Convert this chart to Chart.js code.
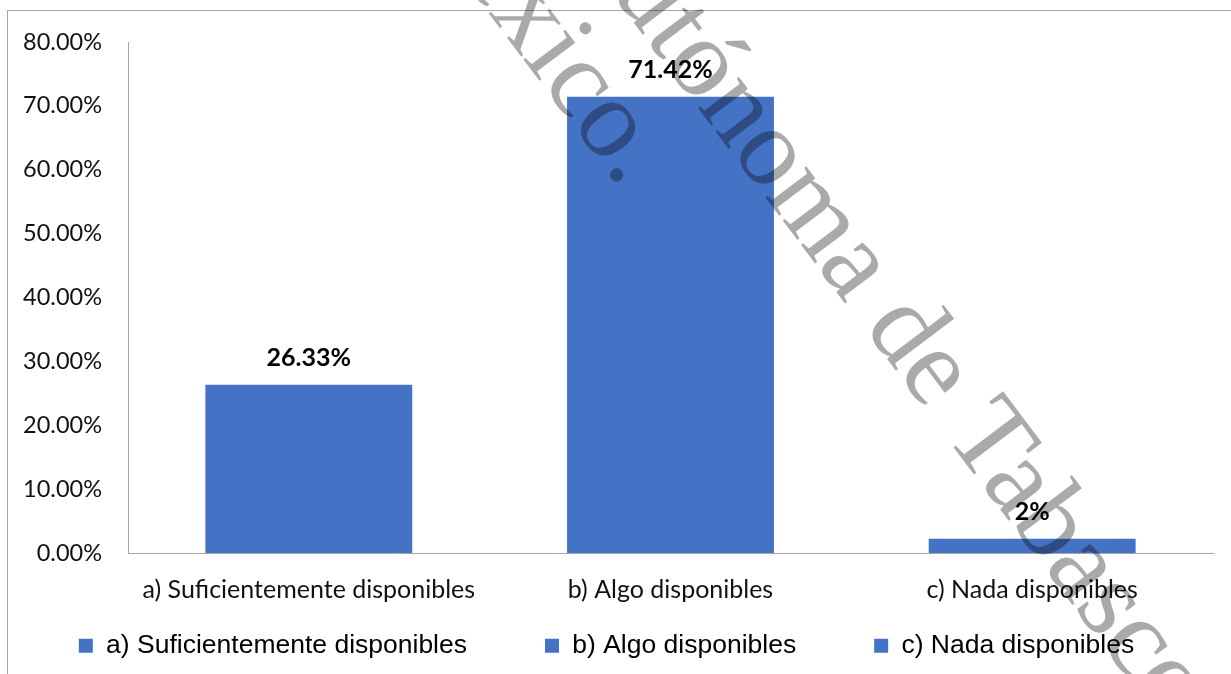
<!DOCTYPE html>
<html>
<head>
<meta charset="utf-8">
<script src="https://cdn.jsdelivr.net/npm/chart.js@4/dist/chart.umd.min.js"></script>
<style>
  html, body { margin: 0; padding: 0; background: #fff; overflow: hidden; }
  #chart { position: absolute; left: 0; top: 0; }
</style>
</head>
<body>
<canvas id="chart" width="1231" height="674"></canvas>
<script>
// data
const categories = ["a) Suficientemente disponibles", "b) Algo disponibles", "c) Nada disponibles"];
const values = [26.33, 71.42, 2.25];
const valueLabels = ["26.33%", "71.42%", "2%"];
const yTicks = [0, 10, 20, 30, 40, 50, 60, 70, 80];

const barColor = "#4472C4";
const axisColor = "#a6a6a6";

// outer frame of the chart object (right and bottom run off the page)
const framePlugin = {
  id: "frame",
  beforeDraw(chart) {
    const ctx = chart.ctx;
    ctx.save();
    ctx.strokeStyle = axisColor;
    ctx.lineWidth = 1;
    ctx.strokeRect(7.5, 10.5, 1400, 900);
    ctx.restore();
  },
};

// value labels above the bars
const barLabels = {
  id: "barLabels",
  afterDatasetsDraw(chart) {
    const ctx = chart.ctx;
    const meta = chart.getDatasetMeta(0);
    ctx.save();
    ctx.font = "bold 25px Lato";
    ctx.fillStyle = "#000";
    ctx.textAlign = "center";
    ctx.textBaseline = "alphabetic";
    meta.data.forEach((bar, i) => {
      ctx.fillText(valueLabels[i], bar.x, bar.y - 19);
    });
    ctx.restore();
  },
};

// gray document watermark drawn over everything
const watermark = {
  id: "watermark",
  afterDraw(chart) {
    const ctx = chart.ctx;
    const size = 112;
    ctx.save();
    ctx.globalCompositeOperation = "multiply";
    ctx.fillStyle = "#aaaaaa";
    ctx.font = size + "px 'Liberation Serif'";
    ctx.textAlign = "left";
    ctx.textBaseline = "alphabetic";
    const angle = 53 * Math.PI / 180;

    ctx.save();
    ctx.translate(700, 68);
    ctx.rotate(angle);
    let off = ctx.measureText("Aut").width + ctx.measureText("ó").width / 2;
    ctx.fillText("Autónoma de Tabasco", -off, 0.23 * size);
    ctx.restore();

    ctx.save();
    ctx.translate(608, 129);
    ctx.rotate(angle);
    off = ctx.measureText("Méxic").width + ctx.measureText("o").width / 2;
    ctx.fillText("México.", -off, 0.23 * size);
    ctx.restore();

    ctx.restore();
  },
};

new Chart(document.getElementById("chart"), {
  type: "bar",
  data: {
    labels: categories,
    datasets: [
      {
        label: "Porcentaje",
        data: values,
        backgroundColor: barColor,
        borderWidth: 0,
        barPercentage: 0.572,
        categoryPercentage: 1,
      },
    ],
  },
  options: {
    responsive: false,
    animation: false,
    layout: {
      padding: { left: 0, top: 42, right: 18, bottom: 5 },
    },
    scales: {
      x: {
        grid: { display: false, drawTicks: false },
        border: { display: true, color: axisColor, width: 1 },
        ticks: {
          color: "#111",
          font: { family: "Lato", size: 25 },
          padding: 22,
          maxRotation: 0,
          autoSkip: false,
        },
        afterFit(scale) {
          scale.height = 50;
        },
      },
      y: {
        min: 0,
        max: 80,
        afterBuildTicks(scale) {
          scale.ticks = yTicks.map((v) => ({ value: v }));
        },
        grid: { display: false, drawTicks: false },
        border: { display: true, color: axisColor, width: 1 },
        ticks: {
          color: "#111",
          font: { family: "Lato", size: 23.5 },
          padding: 26,
          callback: (v) => v.toFixed(2) + "%",
        },
        afterFit(scale) {
          scale.width = 128;
        },
      },
    },
    plugins: {
      tooltip: { enabled: false },
      legend: {
        display: true,
        position: "bottom",
        // empty title with negative padding pulls the single legend row up,
        // so the wide item spacing does not push it off the page
        title: {
          display: true,
          text: "",
          font: { size: 10 },
          padding: { top: -60.5, bottom: 0 },
        },
        labels: {
          color: "#000",
          font: { family: "'Liberation Sans', Arial", size: 26.5 },
          boxWidth: 14,
          boxHeight: 14,
          padding: 78,
          generateLabels(chart) {
            return chart.data.labels.map((label, i) => ({
              text: label,
              fillStyle: barColor,
              strokeStyle: barColor,
              fontColor: "#000",
              lineWidth: 0,
              hidden: false,
              index: i,
            }));
          },
        },
      },
    },
  },
  plugins: [framePlugin, barLabels, watermark],
});
</script>
</body>
</html>
